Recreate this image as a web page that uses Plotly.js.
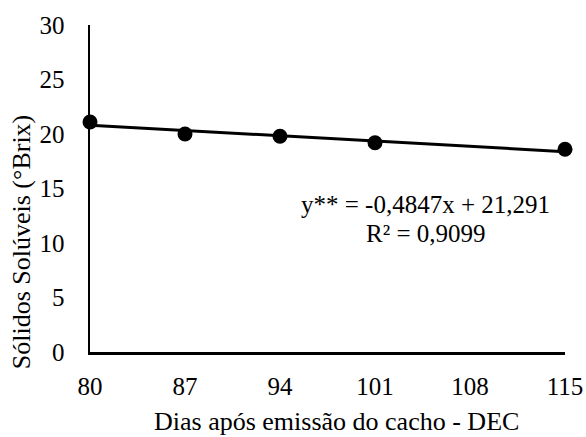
<!DOCTYPE html>
<html>
<head>
<meta charset="utf-8">
<script src="https://cdn.plot.ly/plotly-3.0.1.min.js"></script>
<style>
  html, body { margin: 0; padding: 0; background: #fff; }
  #chart { width: 586px; height: 437px; }
</style>
</head>
<body>
<div id="chart"></div>
<script>
// Soluble solids (°Brix) by days after bunch emission
const days = [80, 87, 94, 101, 115];
const brix = [21.1, 20.0, 19.8, 19.2, 18.6];
const tickDays = [80, 87, 94, 101, 108, 115];

// Linear trend fitted on the sampling index (1 = 80 DEC, step of 7 days)
const slope = -0.4847;
const intercept = 21.291;
const trendX = [tickDays[0], tickDays[tickDays.length - 1]];
const trendY = trendX.map(d => slope * ((d - 80) / 7 + 1) + intercept);

const font = "'Liberation Serif', 'Times New Roman', serif";

const traces = [
  {
    x: trendX, y: trendY, mode: 'lines', type: 'scatter',
    line: { color: '#000', width: 3 }, hoverinfo: 'skip', cliponaxis: false
  },
  {
    x: days, y: brix, mode: 'markers', type: 'scatter',
    marker: { color: '#000', size: 15 }, cliponaxis: false
  }
];

const txt = (text, x, y, opts) => Object.assign({
  xref: 'paper', yref: 'paper', x: x, y: y, xanchor: 'center', yanchor: 'middle',
  text: text, showarrow: false, borderpad: 0,
  font: { family: font, size: 26, color: '#000' }
}, opts || {});

const layout = {
  width: 586, height: 437,
  margin: { l: 90, r: 21, t: 25, b: 85 },
  paper_bgcolor: '#fff', plot_bgcolor: '#fff',
  showlegend: false,
  font: { family: font, color: '#000', size: 25 },
  xaxis: {
    range: [80, 115], tickvals: tickDays, ticktext: tickDays.map(String),
    showgrid: false, zeroline: false, showline: true, linecolor: '#000', linewidth: 2.5,
    ticks: '', ticklen: 0, ticklabelstandoff: 10, automargin: false,
    tickfont: { family: font, size: 25 }
  },
  yaxis: {
    range: [0, 30], tickvals: [0, 5, 10, 15, 20, 25, 30],
    showgrid: false, zeroline: false, showline: true, linecolor: '#000', linewidth: 2.5,
    ticks: '', ticklen: 0, ticklabelstandoff: 18, automargin: false,
    tickfont: { family: font, size: 25 }
  },
  annotations: [
    // axis titles
    txt('Dias após emissão do cacho - DEC', 0.518, -0.214),
    txt('Sólidos Solúveis (°Brix)', -0.145, 0.336, { textangle: -90 }),
    // regression equation
    txt('y** = -0,4847x + 21,291', 0.707, 0.450, { font: { family: font, size: 25, color: '#000' } }),
    txt('R² = 0,9099', 0.707, 0.361, { font: { family: font, size: 25, color: '#000' } })
  ]
};

Plotly.newPlot('chart', traces, layout, { staticPlot: true, displayModeBar: false });
</script>
</body>
</html>
